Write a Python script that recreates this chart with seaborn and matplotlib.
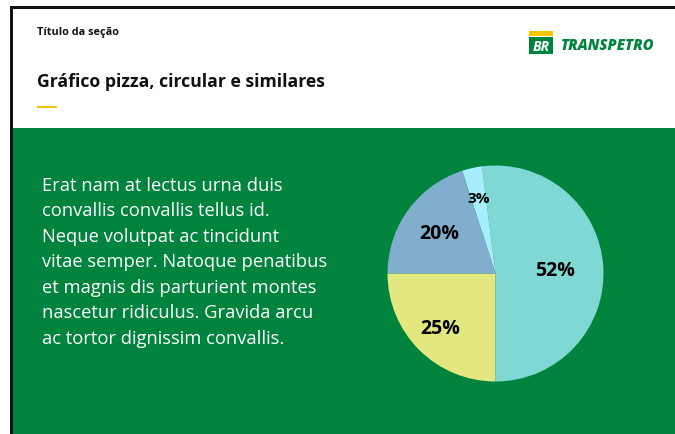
import numpy as np
import matplotlib
matplotlib.use("Agg")
import matplotlib.pyplot as plt
from matplotlib.patches import Rectangle
import seaborn as sns

# Slice data (drawn counter-clockwise starting from the left, 180°)
slice_names = ["Amarelo", "Turquesa", "Ciano", "Azul"]
slice_values = [25, 52, 3, 20]
slice_colors = ["#E2E87F", "#80D8D4", "#A6EEFF", "#80AECC"]

section_title = "Título da seção"
chart_title = "Gráfico pizza, circular e similares"
body_lines = [
    "Erat nam at lectus urna duis",
    "convallis convallis tellus id.",
    "Neque volutpat ac tincidunt",
    "vitae semper. Natoque penatibus",
    "et magnis dis parturient montes",
    "nascetur ridiculus. Gravida arcu",
    "ac tortor dignissim convallis.",
]

sns.set_style("white")
plt.rcParams["font.family"] = ["Open Sans", "DejaVu Sans"]

GREEN = "#00843D"
W, H = 675, 435
fig = plt.figure(figsize=(W / 100, H / 100), dpi=100)
fig.patch.set_facecolor(GREEN)

# Background canvas in pixel coordinates (y grows downward)
bg = fig.add_axes([0, 0, 1, 1])
bg.set_xlim(0, W)
bg.set_ylim(H, 0)
bg.axis("off")

# White header strip and left margin, black frame lines
bg.add_patch(Rectangle((-5, -5), W + 10, 134, color="white", lw=0, clip_on=False))
bg.add_patch(Rectangle((-5, -5), 15, H + 20, color="white", lw=0, clip_on=False))
bg.add_patch(Rectangle((10, 7), W + 20, 3, color="#111111", lw=0, clip_on=False))
bg.add_patch(Rectangle((10, 7), 3, H + 20, color="#111111", lw=0, clip_on=False))

# Header texts
bg.text(37, 33, section_title, fontsize=7.8, fontweight="bold", color="#111111",
        va="center", ha="left")
bg.text(37, 82, chart_title, fontsize=12.7, fontweight="bold", color="#111111",
        va="center", ha="left")
bg.add_patch(Rectangle((37, 107), 20, 2, color="#F5C400", lw=0))

# Logo
bg.add_patch(Rectangle((529, 32), 24, 5, color="#F7C600", lw=0))
bg.add_patch(Rectangle((529, 38), 24, 17, color=GREEN, lw=0))
bg.text(541, 47, "BR", fontsize=10, fontweight="bold", style="italic",
        color="white", va="center", ha="center")
bg.text(561, 45.5, "TRANSPETRO", fontsize=10.6, fontweight="heavy", style="italic",
        color=GREEN, va="center", ha="left")

# Body paragraph
for i, line in enumerate(body_lines):
    bg.text(42, 186 + i * 25.5, line, fontsize=13.25, color="white",
            va="center", ha="left")

# Pie chart
cx, cy, r = 495.5, 274.5, 108
pie_ax = fig.add_axes([(cx - r) / W, (H - cy - r) / H, 2 * r / W, 2 * r / H])
pie_ax.set_facecolor("none")

palette = sns.color_palette(slice_colors)
wedges, _ = pie_ax.pie(slice_values, colors=palette, startangle=180,
                       counterclock=True, radius=1,
                       wedgeprops=dict(linewidth=0))
pie_ax.set_xlim(-1, 1)
pie_ax.set_ylim(-1, 1)
pie_ax.set_aspect("equal")
pie_ax.axis("off")

label_radius = [0.72, 0.55, 0.72, 0.64]
for w, v, lr in zip(wedges, slice_values, label_radius):
    mid = np.deg2rad((w.theta1 + w.theta2) / 2)
    size = 11 if v < 5 else 14
    pie_ax.text(lr * np.cos(mid), lr * np.sin(mid), f"{v}%", fontsize=size,
                fontweight="bold", color="black", ha="center", va="center")

fig.savefig("out.png", dpi=100, facecolor=fig.get_facecolor())
